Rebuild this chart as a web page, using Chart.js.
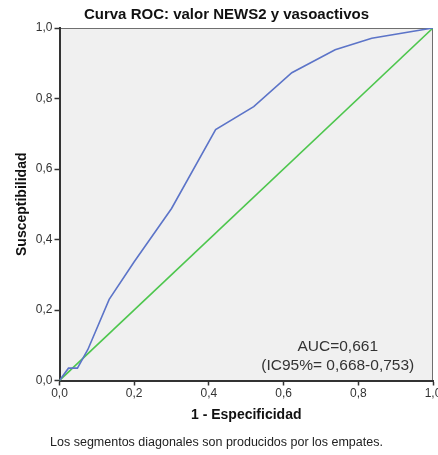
<!DOCTYPE html>
<html lang="es">
<head>
<meta charset="utf-8">
<title>Curva ROC</title>
<script src="https://cdn.jsdelivr.net/npm/chart.js@4/dist/chart.umd.min.js"></script>
<style>
  html, body { margin: 0; padding: 0; background: #fff; }
  canvas { display: block; }
</style>
</head>
<body>
<canvas id="rocChart" width="438" height="455"></canvas>
<script>
// ROC curve points (1 - especificidad, susceptibilidad)
const fpr = [0, 0.024, 0.048, 0.076, 0.133, 0.2, 0.3, 0.418, 0.52, 0.622, 0.738, 0.836, 1];
const tpr = [0, 0.035, 0.035, 0.088, 0.23, 0.337, 0.488, 0.712, 0.777, 0.873, 0.938, 0.971, 1];

// Reference diagonal
const refX = [0, 1];
const refY = [0, 1];

const tickLabels = ["0,0", "0,2", "0,4", "0,6", "0,8", "1,0"];
const aucLines = ["AUC=0,661", "(IC95%= 0,668-0,753)"];

const FONT = "'Liberation Sans', Arial, sans-serif";

// grey plot background + thin frame behind the axes
const plotFrame = {
  id: "plotFrame",
  beforeDraw(chart) {
    const { ctx, chartArea: a } = chart;
    ctx.save();
    ctx.fillStyle = "#f0f0f0";
    ctx.fillRect(a.left, a.top, a.right - a.left, a.bottom - a.top);
    ctx.strokeStyle = "#6f6f6f";
    ctx.lineWidth = 1;
    ctx.strokeRect(a.left + 0.5, a.top + 0.5, a.right - a.left - 1, a.bottom - a.top);
    ctx.restore();
  },
};

// AUC note placed in data coordinates
const aucNote = {
  id: "aucNote",
  afterDatasetsDraw(chart) {
    const { ctx, scales } = chart;
    const x = scales.x.getPixelForValue(0.745);
    const y = scales.y.getPixelForValue(0.097);
    ctx.save();
    ctx.font = "15.5px " + FONT;
    ctx.fillStyle = "#333";
    ctx.textAlign = "center";
    ctx.textBaseline = "middle";
    aucLines.forEach((line, i) => ctx.fillText(line, x, y + i * 19.5));
    ctx.restore();
  },
};

// main title sits a little right of the canvas centre
const titleShift = {
  id: "titleShift",
  afterLayout(chart) {
    chart.titleBlock.left += 20;
  },
};

const axisTicks = {
  color: "#333",
  font: { family: FONT, size: 12 },
  callback: (value, index) => tickLabels[index],
};

new Chart(document.getElementById("rocChart"), {
  type: "line",
  data: {
    datasets: [
      {
        label: "Curva ROC",
        data: fpr.map((x, i) => ({ x, y: tpr[i] })),
        borderColor: "#5c74c8",
        borderWidth: 1.6,
        pointRadius: 0,
        tension: 0,
      },
      {
        label: "Línea de referencia",
        data: refX.map((x, i) => ({ x, y: refY[i] })),
        borderColor: "#4dc64d",
        borderWidth: 1.6,
        pointRadius: 0,
      },
    ],
  },
  options: {
    responsive: false,
    animation: false,
    layout: { padding: { left: 0, right: 5, top: 0, bottom: 0 } },
    plugins: {
      legend: { display: false },
      tooltip: { enabled: false },
      title: {
        display: true,
        text: "Curva ROC: valor NEWS2 y vasoactivos",
        color: "#111",
        font: { family: FONT, size: 15, weight: "bold" },
        padding: { top: 6, bottom: 4 },
      },
      subtitle: {
        display: true,
        position: "bottom",
        text: "Los segmentos diagonales son producidos por los empates.",
        color: "#222",
        font: { family: FONT, size: 12.5 },
        padding: { top: 4, bottom: 4.5 },
      },
    },
    scales: {
      x: {
        type: "linear",
        min: 0,
        max: 1,
        ticks: { ...axisTicks, stepSize: 0.2, padding: 1, maxRotation: 0 },
        grid: { drawOnChartArea: false, drawTicks: true, tickLength: 5, tickWidth: 1.5, tickColor: "#333" },
        border: { display: true, color: "#333", width: 2 },
        title: {
          display: true,
          text: "1 - Especificidad",
          color: "#111",
          font: { family: FONT, size: 14, weight: "bold" },
          padding: { top: 0, bottom: 8 },
        },
        afterFit(scale) {
          scale.height = 51;
          scale.paddingLeft = 0;
          scale.paddingRight = 0;
        },
      },
      y: {
        min: 0,
        max: 1,
        ticks: { ...axisTicks, stepSize: 0.2, padding: 2 },
        grid: { drawOnChartArea: false, drawTicks: true, tickLength: 5, tickWidth: 1.5, tickColor: "#333" },
        border: { display: true, color: "#333", width: 2 },
        title: {
          display: true,
          text: "Susceptibilidad",
          color: "#111",
          font: { family: FONT, size: 14, weight: "bold" },
          padding: { top: 14, bottom: 0 },
        },
        afterFit(scale) {
          scale.width = 59.5;
          scale.paddingTop = 0;
          scale.paddingBottom = 0;
        },
      },
    },
  },
  plugins: [plotFrame, aucNote, titleShift],
});
</script>
</body>
</html>
